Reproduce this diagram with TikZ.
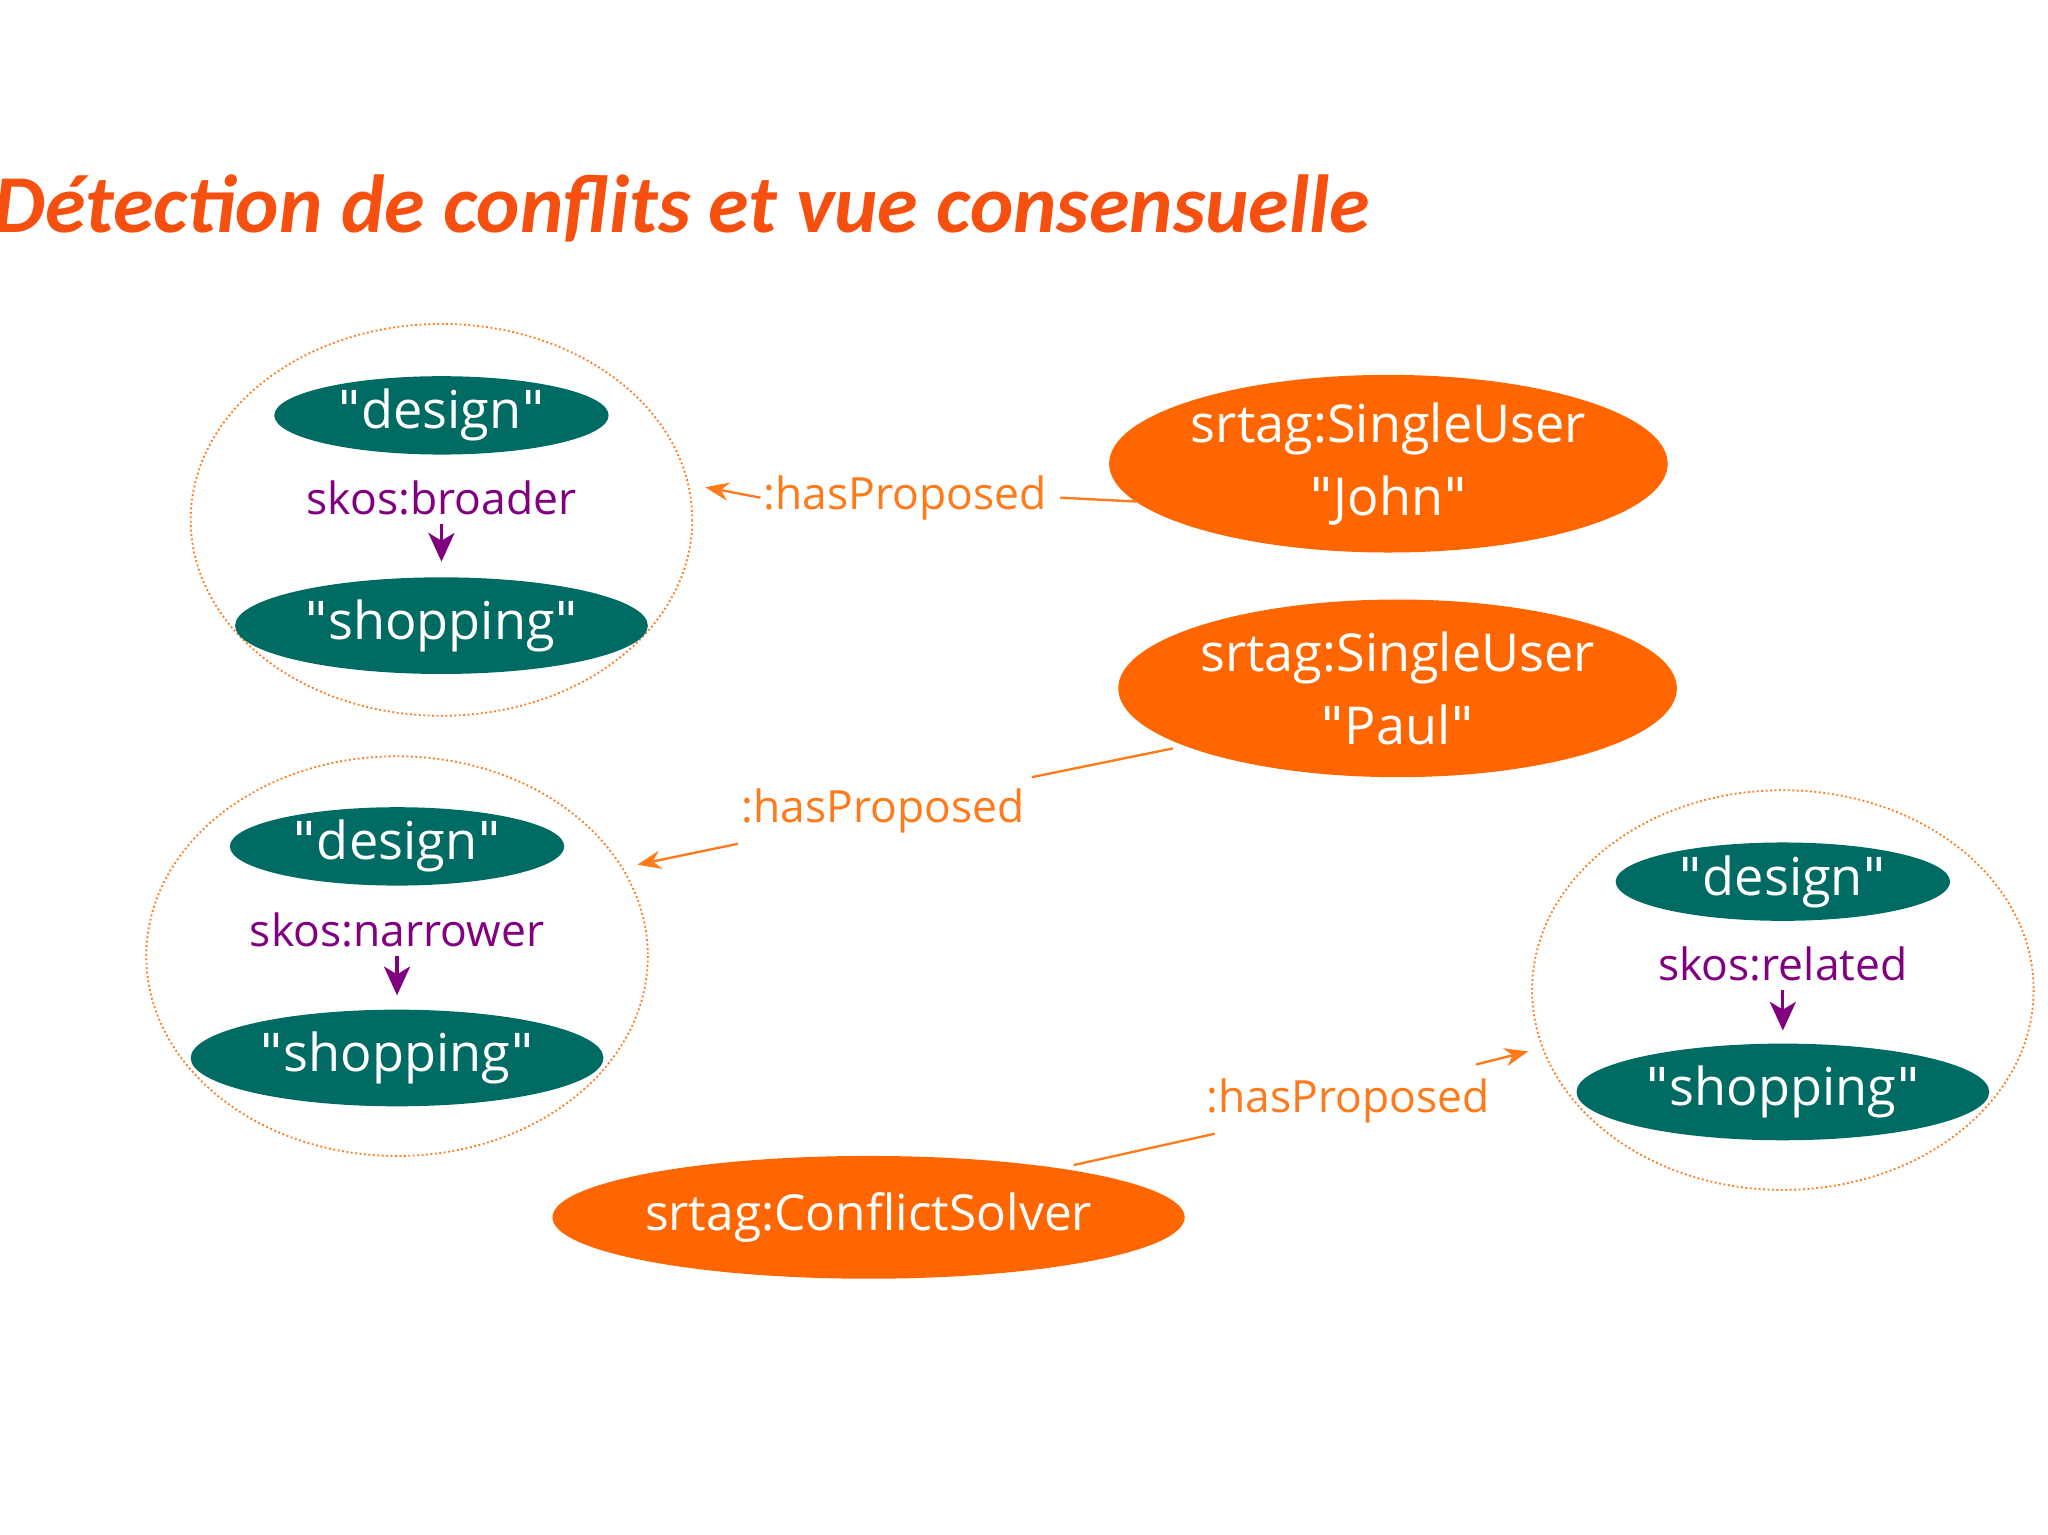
\documentclass[tikz,border=0pt]{standalone}
\usepackage{fontspec}
\setmainfont{Open Sans}
\newfontfamily\titlefont{Carlito}
\newfontfamily\dqfont{DejaVu Sans}
\usetikzlibrary{arrows.meta,shapes.geometric}
\definecolor{teal1}{HTML}{006B63}
\definecolor{org}{HTML}{FF6600}
\definecolor{orgl}{HTML}{FF7A1A}
\definecolor{purp}{HTML}{800080}
\definecolor{titlec}{HTML}{F5500F}
\newcommand\qq{{\dqfont\symbol{34}}}
\begin{document}
\begin{tikzpicture}[x=0.5pt,y=-0.5pt,
  tealbox/.style={fill=teal1,draw=none,text=white,font=\fontsize{20}{24}\selectfont,inner sep=0pt},
  orgbox/.style={fill=org,draw=none,text=white,font=\fontsize{20}{24}\selectfont,align=center,inner sep=0pt},
  groupring/.style={draw=orgl,densely dotted,line width=0.7pt},
  rel/.style={text=purp,font=\fontsize{17}{20}\selectfont},
  plab/.style={text=orgl,font=\fontsize{17}{20}\selectfont,inner sep=1pt},
  pline/.style={draw=orgl,line width=0.9pt},
  parrow/.style={pline,-{Stealth[length=9pt,width=7pt]}},
  rarrow/.style={draw=purp,line width=1.2pt,-{Stealth[length=11pt,width=10pt,inset=3pt]}}]
\useasboundingbox (0,0) rectangle (1568,1175);
\node[anchor=base west,text=titlec,inner sep=0pt,font=\titlefont\bfseries\itshape\fontsize{31.5}{36}\selectfont] (title) at (-5,178) {Détection de conflits et vue consensuelle};
% group 1
\draw[groupring] (338,398) ellipse [x radius=192,y radius=150];
\coordinate (g1e) at (540,373);
\node[tealbox,ellipse,minimum width=128pt,minimum height=30pt] (d1) at (338,318) {\qq design\qq};
\node[rel] (r1) at (338,381) {skos:broader};
\node[tealbox,ellipse,minimum width=158pt,minimum height=37pt] (s1) at (338,479) {\qq shopping\qq};
\draw[rarrow] (r1.south) -- (338,430);
% group 2
\draw[groupring] (304,732) ellipse [x radius=192,y radius=153];
\coordinate (g2e) at (488,662);
\node[tealbox,ellipse,minimum width=128pt,minimum height=30pt] (d2) at (304,648) {\qq design\qq};
\node[rel] (r2) at (304,712) {skos:narrower};
\node[tealbox,ellipse,minimum width=158pt,minimum height=37pt] (s2) at (304,810) {\qq shopping\qq};
\draw[rarrow] (r2.south) -- (304,762);
% group 3
\draw[groupring] (1365,758) ellipse [x radius=192,y radius=153];
\coordinate (g3e) at (1170,805);
\node[tealbox,ellipse,minimum width=128pt,minimum height=30pt] (d3) at (1365,675) {\qq design\qq};
\node[rel] (r3) at (1365,738) {skos:related};
\node[tealbox,ellipse,minimum width=158pt,minimum height=37pt] (s3) at (1365,836) {\qq shopping\qq};
\draw[rarrow] (r3.south) -- (1365,789);
% orange nodes
\node[orgbox,ellipse,minimum width=204pt,minimum height=68pt] (john) at (1063,355) {srtag:SingleUser\\[4pt]\qq John\qq};
\node[orgbox,ellipse,minimum width=211pt,minimum height=68pt] (paul) at (1070,527) {srtag:SingleUser\\[4pt]\qq Paul\qq};
\node[orgbox,ellipse,minimum width=230pt,minimum height=47pt,font=\fontsize{19}{22}\selectfont] (cs) at (665,932) {srtag:ConflictSolver};
% edges
\node[plab] (l1) at (693,381) {:hasProposed};
\node[plab] (l2) at (676,621) {:hasProposed};
\node[plab] (l3) at (1032,843) {:hasProposed};
\coordinate (j1) at (870,384);
\coordinate (p1) at (898,573);
\coordinate (p2) at (790,595);
\coordinate (p3) at (565,646);
\coordinate (c1) at (822,892);
\coordinate (c2) at (930,868);
\coordinate (c3) at (1130,815);
\draw[pline] (j1) -- ([xshift=4pt]l1.east);
\draw[parrow] (l1.west) -- (g1e);
\draw[pline] (p1) -- (p2);
\draw[parrow] (p3) -- (g2e);
\draw[pline] (c1) -- (c2);
\draw[parrow] (c3) -- (g3e);
\end{tikzpicture}
\end{document}
